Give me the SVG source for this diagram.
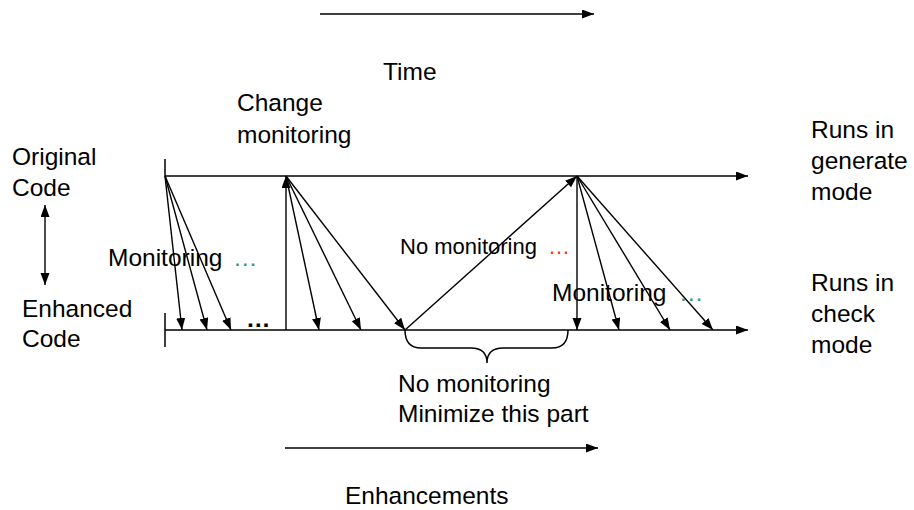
<svg xmlns="http://www.w3.org/2000/svg" width="914" height="510" viewBox="0 0 914 510">
<defs>
<marker id="ah" markerUnits="userSpaceOnUse" markerWidth="13" markerHeight="10" refX="12" refY="4.5" orient="auto">
<path d="M0,0 L12,4.5 L0,9 z" fill="#000"/>
</marker>
</defs>
<style>
text{font-family:"Liberation Sans",Arial,sans-serif;font-size:24.5px;fill:#000}
.sm{font-size:22px}
.ln{stroke:#000;stroke-width:1.5;fill:none}
.ar{stroke:#000;stroke-width:1.4;fill:none;marker-end:url(#ah)}
.g{fill:#339966}
.r{fill:#ff3300}
</style>
<rect width="914" height="510" fill="#fff"/>
<g id="time">
<line class="ar" x1="320" y1="14" x2="594" y2="14"/>
<text x="383" y="80">Time</text>
</g>
<g id="enhancements">
<line class="ar" x1="285" y1="448" x2="598" y2="448"/>
<text x="345" y="504">Enhancements</text>
</g>
<g id="labels-left">
<text x="12" y="165">Original</text>
<text x="12" y="196">Code</text>
<text x="22" y="317">Enhanced</text>
<text x="22" y="347">Code</text>
<line class="ar" x1="45" y1="245" x2="45" y2="205"/>
<line class="ar" x1="45" y1="245" x2="45" y2="285"/>
</g>
<g id="change-monitoring">
<text x="237" y="111">Change</text>
<text x="237" y="143">monitoring</text>
</g>
<g id="runs-generate">
<text x="811" y="138">Runs in</text>
<text x="811" y="169">generate</text>
<text x="811" y="200">mode</text>
</g>
<g id="runs-check">
<text x="811" y="291">Runs in</text>
<text x="811" y="322">check</text>
<text x="811" y="353">mode</text>
</g>
<g id="timelines">
<line class="ar" x1="165" y1="176" x2="748" y2="176"/>
<line class="ar" x1="165" y1="330" x2="748" y2="330"/>
<line class="ln" x1="165" y1="159" x2="165" y2="176"/>
<line class="ln" x1="165" y1="313" x2="165" y2="347"/>
</g>
<g id="connectors">
<line class="ar" x1="165" y1="176" x2="182" y2="330"/>
<line class="ar" x1="165" y1="176" x2="207" y2="330"/>
<line class="ar" x1="165" y1="176" x2="231" y2="330"/>
<line class="ar" x1="286" y1="330" x2="286" y2="176"/>
<line class="ar" x1="286" y1="176" x2="319" y2="330"/>
<line class="ar" x1="286" y1="176" x2="361" y2="330"/>
<line class="ar" x1="286" y1="176" x2="405" y2="330"/>
<line class="ar" x1="405" y1="330" x2="577" y2="176"/>
<line class="ar" x1="577" y1="176" x2="577" y2="330"/>
<line class="ar" x1="577" y1="176" x2="619" y2="330"/>
<line class="ar" x1="577" y1="176" x2="670" y2="330"/>
<line class="ar" x1="577" y1="176" x2="713" y2="330"/>
<path class="ln" d="M405,330 Q405,348 421,348 L471,348 Q487,348 487,363 Q487,348 503,348 L552,348 Q568,348 568,330"/>
</g>
<g id="monitoring-left">
<text x="108" y="266">Monitoring<tspan class="g" x="233">…</tspan></text>
</g>
<g id="no-monitoring-top">
<text class="sm" x="400" y="254">No monitoring<tspan class="r" x="548">…</tspan></text>
</g>
<g id="monitoring-right">
<text x="552" y="301">Monitoring<tspan class="g" x="679">…</tspan></text>
</g>
<g id="dots">
<text x="246" y="327" font-weight="bold" font-size="26">…</text>
</g>
<g id="no-monitoring-bottom">
<text x="398" y="392">No monitoring</text>
<text x="398" y="422">Minimize this part</text>
</g>
</svg>
